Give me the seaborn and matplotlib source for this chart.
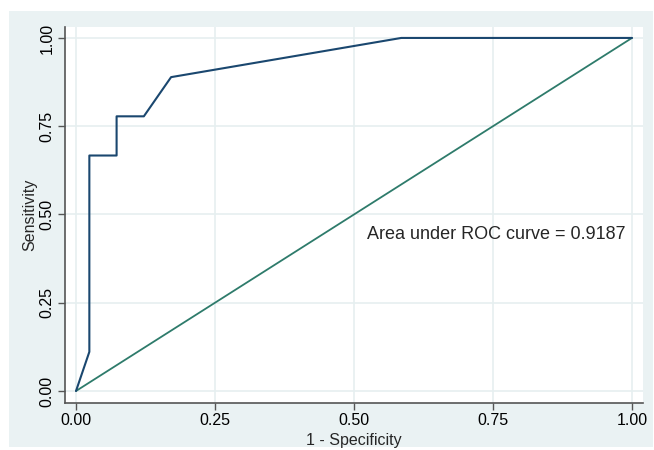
import numpy as np
import pandas as pd
import matplotlib
matplotlib.use("Agg")
import matplotlib.pyplot as plt
import seaborn as sns

# ROC points
fpr = [0.0, 0.024, 0.024, 0.073, 0.073, 0.122, 0.171, 0.585, 1.0]
tpr = [0.0, 0.111, 0.667, 0.667, 0.778, 0.778, 0.889, 1.0, 1.0]
ref_x = [0.0, 1.0]
ref_y = [0.0, 1.0]
ticks = [0.0, 0.25, 0.5, 0.75, 1.0]
tick_labels = ["0.00", "0.25", "0.50", "0.75", "1.00"]
auc_text = "Area under ROC curve = 0.9187"

bg = "#eaf2f3"
grid_col = "#e6eff0"

sns.set_style("white")
plt.rcParams["font.family"] = ["Liberation Sans", "DejaVu Sans"]

fig = plt.figure(figsize=(6.54, 4.5), dpi=100)
fig.patch.set_facecolor("white")
# outer light panel
fig.patches.append(plt.Rectangle((9 / 654, 1 - 447 / 450), 644 / 654, 436 / 450,
                                 transform=fig.transFigure, facecolor=bg,
                                 edgecolor="none", zorder=-5))
ax = fig.add_axes([65 / 654, 1 - 403 / 450, 578 / 654, 376 / 450])
ax.set_zorder(1)
ax.set_facecolor("white")

roc = pd.DataFrame({"fpr": fpr, "tpr": tpr})
ref = pd.DataFrame({"x": ref_x, "y": ref_y})
sns.lineplot(data=ref, x="x", y="y", sort=False, estimator=None,
             color="#2e7b6b", lw=1.3, ax=ax)
sns.lineplot(data=roc, x="fpr", y="tpr", sort=False, estimator=None,
             color="#1a476f", lw=1.5, ax=ax)

ax.set_xlim(-0.0198, 1.0198)
ax.set_ylim(-0.034, 1.031)
ax.set_xticks(ticks)
ax.set_xticklabels(tick_labels)
ax.set_yticks(ticks)
ax.set_yticklabels(tick_labels, rotation=90, va="center")
ax.grid(True, color=grid_col, lw=1.2)
ax.set_axisbelow(True)

for s in ["top", "right"]:
    ax.spines[s].set_visible(False)
for s in ["left", "bottom"]:
    ax.spines[s].set_color("#555555")
    ax.spines[s].set_linewidth(1.2)
ax.tick_params(axis="both", direction="out", length=5, width=1, color="#555555",
               labelsize=11.5, labelcolor="#000000", pad=2.5, left=True, bottom=True)

ax.set_xlabel("1 - Specificity", fontsize=11.5, labelpad=3)
ax.set_ylabel("Sensitivity", fontsize=11.5, labelpad=2)

ax.text(0.523, 0.442, auc_text, fontsize=13, va="center", ha="left")

fig.savefig("out.png", dpi=100)
